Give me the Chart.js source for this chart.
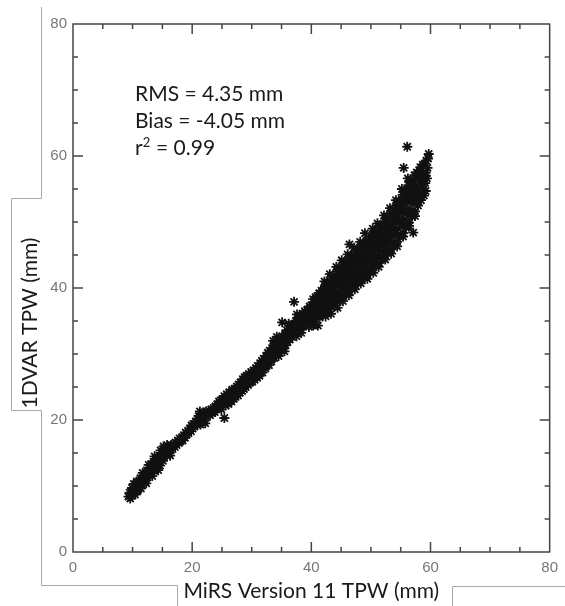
<!DOCTYPE html>
<html>
<head>
<meta charset="utf-8">
<script src="https://cdn.jsdelivr.net/npm/chart.js@4.4.0/dist/chart.umd.min.js"></script>
<style>
  html, body { margin: 0; padding: 0; background: #fff; }
  #wrap { width: 565px; height: 606px; }
</style>
</head>
<body>
<div id="wrap"><canvas id="tpwChart" width="565" height="606"></canvas></div>
<script>
// MiRS Version 11 TPW (x) against 1DVAR TPW (y), mm
const lowBand = [
  [9.3,8.4],[9.6,8.1],[9.8,8.9],[10.0,8.6],[10.1,9.4],[9.9,9.7],[9.5,9.0],
  [10.3,9.1],[10.4,8.7],[10.6,9.6],[10.5,10.2],[10.8,9.2],[10.9,10.0],[10.7,10.7],[10.2,10.3],
  [11.1,9.8],[11.2,10.5],[11.3,11.2],[11.5,10.2],[11.6,10.9],[11.8,11.6],[11.9,10.6],[11.7,12.0],[11.4,9.6],
  [12.0,11.2],[12.1,10.7],[12.2,11.9],[12.4,12.4],[12.5,11.3],[12.6,11.9],[12.8,12.7],[12.9,11.8],[12.7,13.2],[12.3,10.4],
  [13.0,12.4],[13.1,13.3],[13.2,11.9],[13.4,12.8],[13.5,13.7],[13.6,12.3],[13.8,13.1],[13.9,14.1],[13.7,14.5],[13.3,11.5],
  [14.0,13.3],[14.1,12.7],[14.2,14.1],[14.4,13.7],[14.5,14.6],[14.6,13.1],[14.8,14.2],[14.9,15.0],[14.7,15.4],[14.3,12.4],
  [15.0,14.4],[15.1,13.8],[15.3,15.1],[15.4,14.6],[15.6,15.5],[15.7,14.7],[15.9,15.7],[15.8,16.2],[15.2,16.0],
  [16.1,15.0],[16.2,15.7],[16.4,15.4],[16.5,16.2],[16.7,15.6],[16.9,16.3],[16.3,14.6],
  [17.1,15.9],[17.2,16.6],[17.4,16.2],[17.6,16.9],[17.8,16.5],[17.9,17.2],
  [18.1,16.8],[18.3,17.4],[18.4,16.9],[18.6,17.7],[18.8,17.3],[18.9,18.1],
  [19.1,17.8],[19.3,18.4],[19.4,18.0],[19.6,18.7],[19.8,18.3],[19.9,19.2],
  [20.1,18.7],[20.2,19.4],[20.4,19.0],[20.6,19.8],[20.7,19.3],[20.9,20.2],
  [21.0,19.5],[21.1,20.6],[21.2,20.0],[21.4,19.3],[21.5,20.8],[21.6,20.2],[21.7,19.6],
  [21.9,20.5],[22.0,21.1],[22.1,19.9],[22.3,20.6],[22.4,21.3],[21.3,21.3],[22.2,19.5]
];

const midBand = [
  [22.6,20.9],[22.8,21.4],[23.0,20.7],[23.2,21.6],[23.4,21.1],[23.6,21.8],[23.8,21.2],[23.9,22.1],
  [24.1,21.6],[24.2,22.4],[24.4,21.9],[24.5,22.8],[24.7,22.1],[24.8,23.0],[24.9,21.6],
  [25.0,22.4],[25.1,23.2],[25.3,22.6],[25.4,23.6],[25.6,22.2],[25.7,23.0],[25.8,23.9],[25.9,22.7],[25.4,20.3],
  [26.0,23.4],[26.1,22.4],[26.2,24.2],[26.3,23.0],[26.5,23.8],[26.6,22.8],[26.7,24.6],[26.8,23.5],[26.9,24.1],
  [27.0,23.2],[27.1,24.7],[27.2,24.1],[27.3,23.5],[27.5,25.1],[27.6,24.3],[27.7,23.7],[27.8,25.4],[27.9,24.6],
  [28.0,24.1],[28.1,25.7],[28.2,25.0],[28.4,24.4],[28.5,26.2],[28.6,25.4],[28.7,24.7],[28.8,26.5],[28.9,25.8],
  [29.0,25.0],[29.1,26.7],[29.2,26.0],[29.4,25.3],[29.5,27.0],[29.6,26.3],[29.8,25.7],[29.9,27.3],
  [30.0,26.6],[30.1,25.8],[30.3,27.5],[30.4,26.9],[30.5,26.1],[30.7,27.9],[30.8,27.1],[30.9,26.4],
  [31.0,28.2],[31.1,27.4],[31.3,26.7],[31.4,28.6],[31.5,27.8],[31.7,29.0],[31.8,27.2],[31.9,28.3],
  [32.0,29.3],[32.1,28.6],[32.3,27.8],[32.4,29.7],[32.5,28.9],[32.7,30.2],[32.8,29.3],[32.9,28.3],
  [33.0,30.5],[33.1,29.7],[33.3,28.9],[33.4,30.9],[33.5,30.1],[33.7,31.3],[33.8,29.4],[33.9,30.6],[33.6,32.0],
  [34.0,31.6],[34.1,30.1],[34.3,30.9],[34.4,32.0],[34.5,29.7],[34.6,31.3],[34.8,32.4],[34.9,30.5],[34.2,32.6],
  [35.0,31.7],[35.1,32.7],[35.3,30.9],[35.4,32.1],[35.6,33.1],[35.7,31.3],[35.8,32.5],[35.9,33.6],[35.5,30.4],
  [36.0,31.8],[36.1,32.9],[36.3,33.8],[36.4,32.2],[36.5,33.3],[36.7,34.3],[36.8,32.6],[36.9,33.6],[36.2,34.6],
  [37.0,34.5],[37.1,33.0],[37.3,33.9],[37.4,35.0],[37.5,32.7],[37.7,34.3],[37.8,35.4],[37.9,33.5],[37.6,36.0],
  [38.0,34.7],[38.1,35.6],[38.2,33.8],[38.4,35.0],[38.5,36.1],[38.6,34.2],[38.8,35.4],[38.9,36.5],[38.3,33.2],
  [39.0,34.7],[39.1,35.8],[39.3,36.7],[39.4,35.1],[39.5,36.2],[39.7,37.2],[39.8,35.4],[39.9,36.5],[39.6,34.1]
];

const highBand = [
  [40.0,37.4],[40.1,35.5],[40.2,36.7],[40.3,38.3],[40.4,34.9],[40.5,37.1],[40.6,36.0],[40.7,38.6],[40.8,35.7],[40.9,37.8],[40.3,34.3],[40.6,36.9],
  [41.0,38.8],[41.1,36.3],[41.2,37.3],[41.3,39.2],[41.4,35.5],[41.5,38.0],[41.6,36.8],[41.7,39.6],[41.8,37.5],[41.9,36.0],[41.4,38.4],[41.1,34.3],
  [42.0,39.6],[42.1,37.0],[42.2,38.5],[42.3,40.3],[42.4,36.3],[42.5,39.0],[42.6,37.6],[42.7,40.8],[42.8,38.7],[42.9,36.9],[42.4,35.7],[42.8,39.7],[42.2,41.0],
  [43.0,40.7],[43.1,38.1],[43.2,39.2],[43.3,41.4],[43.4,37.1],[43.5,40.1],[43.6,38.5],[43.7,41.8],[43.8,39.6],[43.9,37.7],[43.3,36.1],[43.7,40.9],[43.1,42.1],[43.5,37.9],
  [44.0,41.5],[44.1,38.9],[44.2,40.3],[44.3,42.5],[44.4,37.9],[44.5,41.1],[44.6,39.4],[44.7,42.9],[44.8,40.6],[44.9,38.3],[44.4,37.0],[44.7,41.8],[44.2,43.2],[44.6,38.6],
  [45.0,42.6],[45.1,39.7],[45.2,41.0],[45.3,43.5],[45.4,38.7],[45.5,42.1],[45.6,40.2],[45.7,43.9],[45.8,41.5],[45.9,39.3],[45.3,38.0],[45.8,42.8],[45.1,44.2],[45.5,39.4],
  [46.0,43.3],[46.1,40.6],[46.2,42.0],[46.3,44.4],[46.4,39.5],[46.5,42.8],[46.6,41.3],[46.7,44.9],[46.8,42.4],[46.9,40.1],[46.4,46.6],[46.3,38.9],[46.8,43.7],[46.1,45.1],[46.6,40.3],
  [47.0,44.2],[47.1,41.5],[47.2,42.8],[47.3,45.4],[47.4,40.4],[47.5,43.9],[47.6,42.0],[47.7,45.8],[47.8,43.3],[47.9,40.9],[47.3,39.8],[47.8,44.6],[47.2,46.1],[47.6,41.2],
  [48.0,45.3],[48.1,42.2],[48.2,43.7],[48.3,46.3],[48.4,41.3],[48.5,44.8],[48.6,42.9],[48.7,46.7],[48.8,44.2],[48.9,41.7],[48.3,40.7],[48.7,45.5],[48.2,47.0],[48.6,42.3],
  [49.0,46.0],[49.1,43.3],[49.2,44.6],[49.3,47.2],[49.4,42.0],[49.5,45.7],[49.6,43.8],[49.7,47.6],[49.8,45.1],[49.9,42.6],[49.4,41.4],[49.7,46.4],[49.0,48.3],[49.5,43.2],
  [50.0,47.1],[50.1,44.0],[50.2,45.5],[50.3,48.1],[50.4,43.1],[50.5,46.6],[50.6,44.7],[50.7,48.5],[50.8,46.0],[50.9,43.5],[50.4,42.3],[50.8,47.3],[50.3,49.0],[50.6,43.9],
  [51.0,48.0],[51.1,44.9],[51.2,46.4],[51.3,49.0],[51.4,43.8],[51.5,47.5],[51.6,45.6],[51.7,49.4],[51.8,46.9],[51.9,44.4],[51.3,43.2],[51.8,48.2],[51.1,49.8],[51.6,44.8]
];

const topBand = [
  [52.0,48.9],[52.1,46.0],[52.2,47.5],[52.3,50.1],[52.4,44.9],[52.5,48.4],[52.6,46.6],[52.7,50.6],[52.8,47.9],[52.9,45.5],[52.4,44.3],[52.8,49.4],[52.2,51.0],[52.6,45.8],
  [53.0,50.0],[53.1,47.1],[53.2,48.7],[53.3,51.3],[53.4,45.9],[53.5,49.6],[53.6,47.8],[53.7,51.8],[53.8,49.0],[53.9,46.5],[53.4,45.2],[53.8,50.5],[53.2,52.1],[53.6,46.9],
  [54.0,51.4],[54.1,48.3],[54.2,50.0],[54.3,52.6],[54.4,47.0],[54.5,50.9],[54.6,49.0],[54.7,53.2],[54.8,50.3],[54.9,47.7],[54.4,46.3],[54.8,51.8],[54.2,53.3],[54.6,48.1],
  [55.0,52.8],[55.1,49.7],[55.2,51.4],[55.3,54.1],[55.4,48.3],[55.5,52.3],[55.6,50.4],[55.7,54.7],[55.8,51.8],[55.9,49.1],[55.4,47.8],[55.8,53.3],[55.2,55.0],[55.6,49.5],
  [56.0,54.4],[56.1,51.3],[56.2,53.0],[56.3,55.6],[56.4,49.9],[56.5,53.9],[56.6,52.0],[56.7,56.2],[56.8,53.4],[56.9,50.8],[56.4,49.4],[56.8,54.9],[56.2,56.6],[56.6,51.1],
  [57.0,56.0],[57.1,52.9],[57.2,54.6],[57.3,57.1],[57.4,51.6],[57.5,55.4],[57.6,53.6],[57.7,57.5],[57.8,55.0],[57.9,52.5],[57.4,50.9],[57.8,56.4],[57.6,54.1],
  [58.0,57.4],[58.1,54.4],[58.2,56.0],[58.3,58.3],[58.4,53.3],[58.5,56.9],[58.6,55.2],[58.7,58.7],[58.8,56.5],[58.9,54.0],[58.4,57.7],[58.8,55.7],
  [59.0,58.8],[59.1,55.9],[59.2,57.5],[59.3,59.3],[59.4,56.6],[59.5,58.2],[59.6,59.6],[59.2,57.0]
];

const outliers = [
  [56.1,61.4],[59.7,60.3],[55.5,58.2],[59.2,54.7],[57.1,48.4],[37.1,37.9],[35.1,34.8],[55.4,53.3]
];

const axisMin = 0;
const axisMax = 80;
const majorStep = 20;
const minorStep = 5;
const xTitle = 'MiRS Version 11 TPW (mm)';
const yTitle = '1DVAR TPW (mm)';
const statLines = [['RMS = 4.35 mm'], ['Bias = -4.05 mm'], ['r', '2', ' = 0.99']];

const allPoints = [...lowBand, ...midBand, ...highBand, ...topBand, ...outliers]
  .map(([x, y]) => ({ x: x, y: y }));

const textFont = '"Lato", "Open Sans", sans-serif';

// box round the plot, inward ticks, titles, stats and the gray slide outlines
const decorations = {
  id: 'decorations',
  afterDraw(chart) {
    const ctx = chart.ctx;
    const area = chart.chartArea;
    const xs = chart.scales.x;
    const ys = chart.scales.y;
    ctx.save();

    // gray outlines of the original text boxes
    ctx.strokeStyle = '#a8a8a8';
    ctx.lineWidth = 1;
    ctx.beginPath();
    ctx.moveTo(41.5, 7); ctx.lineTo(41.5, 198.5); ctx.lineTo(11.5, 198.5);
    ctx.lineTo(11.5, 410.5); ctx.lineTo(41.5, 410.5); ctx.lineTo(41.5, 585.5);
    ctx.lineTo(177.5, 585.5); ctx.lineTo(177.5, 606);
    ctx.moveTo(452.5, 606); ctx.lineTo(452.5, 586.5); ctx.lineTo(565, 586.5);
    ctx.stroke();

    // plot frame
    ctx.strokeStyle = '#444';
    ctx.lineWidth = 1.5;
    ctx.strokeRect(area.left, area.top, area.right - area.left, area.bottom - area.top);

    // tick marks pointing inward on all four sides
    ctx.beginPath();
    for (let v = axisMin + minorStep; v < axisMax; v += minorStep) {
      const len = v % majorStep === 0 ? 10 : 5;
      const px = xs.getPixelForValue(v);
      const py = ys.getPixelForValue(v);
      ctx.moveTo(px, area.bottom); ctx.lineTo(px, area.bottom - len);
      ctx.moveTo(px, area.top); ctx.lineTo(px, area.top + len);
      ctx.moveTo(area.left, py); ctx.lineTo(area.left + len, py);
      ctx.moveTo(area.right, py); ctx.lineTo(area.right - len, py);
    }
    ctx.stroke();

    // axis titles
    ctx.fillStyle = '#1a1a1a';
    ctx.font = '21px ' + textFont;
    ctx.textAlign = 'center';
    ctx.textBaseline = 'middle';
    ctx.fillText(xTitle, (area.left + area.right) / 2, 591);
    ctx.save();
    ctx.translate(30, 323);
    ctx.rotate(-Math.PI / 2);
    ctx.fillText(yTitle, 0, 0);
    ctx.restore();

    // statistics, the "2" of r2 set as a superscript
    ctx.textAlign = 'left';
    ctx.textBaseline = 'alphabetic';
    statLines.forEach((parts, i) => {
      let x = 135;
      const base = 101 + i * 27;
      parts.forEach((part, j) => {
        const sup = parts.length > 1 && j === 1;
        ctx.font = (sup ? '13px ' : '21px ') + textFont;
        ctx.fillText(part, x, sup ? base - 8 : base);
        x += ctx.measureText(part).width + (sup ? 0.5 : 0);
      });
    });

    ctx.restore();
  }
};

const ctx = document.getElementById('tpwChart').getContext('2d');
const tpwChart = new Chart(ctx, {
  type: 'scatter',
  data: {
    datasets: [{
      label: 'TPW',
      data: allPoints,
      pointStyle: 'star',
      pointRadius: 5,
      borderWidth: 1.8,
      borderColor: '#111',
      backgroundColor: 'rgba(0,0,0,0)'
    }]
  },
  options: {
    responsive: false,
    animation: false,
    devicePixelRatio: 1,
    layout: { padding: { top: 24, right: 9, left: 0, bottom: 0 } },
    plugins: {
      legend: { display: false },
      tooltip: { enabled: false }
    },
    scales: {
      x: {
        type: 'linear',
        min: axisMin,
        max: axisMax,
        grid: { display: false, drawTicks: false },
        border: { display: false },
        ticks: {
          stepSize: majorStep,
          padding: 7,
          color: '#777',
          font: { family: '"Liberation Sans", Arial, sans-serif', size: 15 }
        },
        afterFit(scale) { scale.height = 54; }
      },
      y: {
        type: 'linear',
        min: axisMin,
        max: axisMax,
        grid: { display: false, drawTicks: false },
        border: { display: false },
        ticks: {
          stepSize: majorStep,
          padding: 6,
          color: '#777',
          font: { family: '"Liberation Sans", Arial, sans-serif', size: 15 }
        },
        afterFit(scale) { scale.width = 73; }
      }
    }
  },
  plugins: [decorations]
});
</script>
</body>
</html>
